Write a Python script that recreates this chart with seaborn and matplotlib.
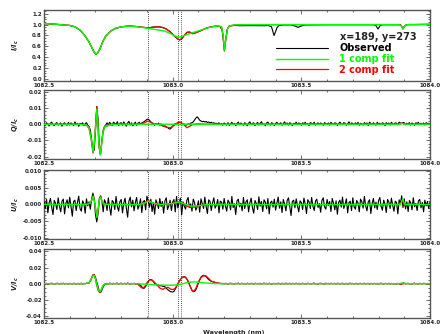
"""Stokes I/Q/U/V profiles around the He I 1083 nm triplet with 1- and 2-component fits."""

import numpy as np
import matplotlib
matplotlib.use("Agg")
import matplotlib.pyplot as plt
from matplotlib.ticker import MultipleLocator, FormatStrFormatter
import seaborn as sns

# ---------------------------------------------------------------- data
# observed Q/U/V sampled every 0.005 nm from 1082.5 to 1084.0 nm (301 pixels)
N_PIX = 301

# observed Stokes, in units of 1e-4 I_c
Q_OBS_E4 = [
    5, -6, 9, 2, -11, 6, 13, -3, -8, 4, 10, -5, 0, 8, -12, 3, 9, -2, -6, 12,
    -5, 8, 2, -9, 15, -3, 5, -13, 6, 0, 9, -8, 3, 10, -6, -14, -35, -95, -170, -160,
    -45, 110, 35, -150, -185, -105, -35, -14, -4, 9, -5, 12, 3, -8, 13, 6, -3, 16, -9, 5,
    10, -6, 15, 2, -12, 8, 18, -5, 9, -10, 3, 13, -7, 6, 12, 3, 8, 12, 17, 23,
    30, 32, 24, 15, 6, 1, -6, 5, -3, 8, -5, 3, -9, -12, -10, -16, -20, -27, -30, -22,
    -12, -3, 4, 2, 8, 12, 10, 5, -3, 2, -6, -4, 3, 0, 7, 10, 15, 26, 38, 46,
    37, 25, 20, 16, 18, 14, 17, 11, 14, 9, 12, 7, 9, 5, 6, 2, 9, -3, 5, -6,
    8, 2, -5, 10, -8, 3, 12, -2, 6, -9, 5, 13, -3, 8, 0, -6, 9, 3, -10, 6,
    15, -3, 5, 9, -8, 2, 12, -5, 6, 16, -2, 3, -9, 8, 13, 0, -5, 10, 3, -8,
    6, 12, -3, 2, 9, -6, 5, 15, -2, 8, -5, 10, 3, -9, 6, 2, 13, -3, 8, 5,
    -6, 9, 3, 12, -2, 5, -8, 10, 6, 0, 13, -5, 3, 9, -3, 8, 2, -6, 10, 5,
    0, 8, -5, 12, 3, -2, 9, 6, -8, 5, 13, 2, -3, 10, 6, -6, 3, 15, -2, 8,
    5, -3, 9, 0, 12, -6, 6, 3, -5, 10, 2, 8, -8, 13, 5, -2, 9, 3, -6, 12,
    2, 6, -3, 9, 5, -8, 10, 0, 8, -5, 12, 3, -2, 9, 6, -3, 13, 8, 5, 12,
    9, -3, 6, 2, 10, -5, 8, 3, -6, 9, 5, 12, -2, 6, 0, 8, -5, 10, 3, 6,
    2,
]
U_OBS_E4 = [
    8, -12, 15, -25, 5, 18, -8, -30, 12, 3, -15, 20, -5, -22, 10, 16, -28, 4, 14, -10,
    22, -6, -35, 9, 13, -18, 6, 25, -12, -20, 11, 3, -26, 17, -4, 8, -14, 16, 34, 18,
    -30, -52, -28, 18, 26, 10, -22, 14, 5, -18, 20, -9, -32, 12, 7, -15, 24, -6, -20, 9,
    15, -25, 4, 19, -11, -38, 10, 22, -7, 13, -19, 6, 21, -14, -3, 17, -24, 8, 12, -16,
    25, 10, -8, 16, -21, 5, -29, 14, 3, -12, 18, -6, 9, -26, 11, 20, -15, -4, 13, -18,
    7, 15, -22, 24, -10, 4, 19, -31, 8, -5, -14, 12, 21, -9, 2, -20, 16, 6, -17, -8,
    11, -23, 17, 3, -12, 22, -6, -27, 14, 9, -18, 5, 20, -11, -2, 15, -25, 10, 7, -14,
    18, -4, -20, 13, 6, -16, 24, -9, 2, -30, 11, 16, -7, 4, -19, 21, -12, 8, 14, -22,
    5, 19, -10, -26, 12, 3, -15, 23, -5, 9, -21, 14, 7, -13, 18, -28, 6, 10, -8, 16,
    -17, 4, 22, -11, 8, -24, 15, 1, -19, 12, 20, -6, -33, 9, 13, -10, 17, -4, -22, 11,
    6, -15, 19, 2, -27, 14, 8, -12, 21, -5, -18, 10, 16, -9, 3, -23, 12, 20, -7, -14,
    15, -3, 9, -21, 18, 4, -16, 11, -29, 7, 13, -8, 22, -12, 1, 17, -25, 6, 10, -18,
    20, -7, -14, 12, 5, -22, 16, 9, -11, 24, -4, -19, 8, 14, -27, 3, 18, -10, 7, -15,
    11, 21, -6, -17, 13, 2, -24, 15, 8, -12, 19, -3, -20, 10, 6, -28, 14, 4, 26, -9,
    17, -13, 8, -21, 12, 5, -16, 20, -7, 3, -18, 11, 15, -10, 6, -22, 13, -4, 9, -12,
    7,
]
V_OBS_E4 = [
    2, -3, 4, 0, -5, 3, 6, -2, 1, -4, 5, 2, -3, 4, -1, 6, -4, 2, 3, -5,
    4, 0, -3, 5, 2, -6, 3, 1, -2, 6, -4, 3, 0, 5, 3, 10, 30, 70, 105, 113,
    80, 20, -45, -95, -109, -80, -40, -15, -5, 3, -4, 6, 1, -3, 5, -2, 4, 7, -5, 2,
    6, -3, 1, 5, -4, 8, 2, -6, 3, 0, 4, -2, 0, -3, -10, -20, -40, -58, -55, -35,
    2, 28, 47, 51, 43, 26, 3, -8, -19, -21, -27, -26, -31, -34, -39, -57, -71, -84, -97, -101,
    -104, -96, -68, -36, -3, 24, 52, 69, 83, 85, 81, 58, 32, -11, -48, -82, -99, -97, -76, -38,
    6, 48, 81, 95, 103, 99, 87, 69, 49, 41, 30, 26, 19, 16, 10, 9, 4, 3, -1, 4,
    -2, 5, 1, -4, 3, 6, -1, 2, -5, 4, 0, 7, -3, 2, 5, -2, 3, -4, 6, 1,
    -3, 4, 2, -5, 6, 0, 3, -2, 5, -4, 1, 7, -1, 3, -3, 5, 2, -6, 4, 0,
    3, -2, 6, 1, -4, 4, 2, -3, 7, -1, 0, 5, -5, 3, 2, -2, 6, -1, 4, -3,
    1, 5, -2, 3, -4, 6, 0, 2, -3, 4, 7, -2, 1, -5, 3, 5, -1, 2, -4, 6,
    0, 3, -3, 5, 2, -1, 4, -4, 6, 1, -2, 3, 5, -3, 0, 4, -5, 2, 6, -1,
    3, -2, 1, 5, -4, 2, 4, -1, 0, 6, -3, 2, 3, -5, 4, 1, -2, 5, -1, 3,
    -4, 2, 6, 0, -3, 4, 1, -2, 5, -5, 3, 0, -3, 2, -6, 4, -2, -8, 6, -4,
    5, -3, 2, 4, -2, 1, -5, 3, 6, -1, 2, -4, 4, 0, -3, 5, 1, -2, 3, 0,
    2,
]

# observed intensity (smooth, given at read-off wavelengths)
I_OBS_WAVE = [
    1082.50, 1082.55, 1082.60, 1082.62, 1082.64, 1082.66, 1082.675, 1082.685,
    1082.695, 1082.702, 1082.709, 1082.718, 1082.728, 1082.74, 1082.76, 1082.78,
    1082.80, 1082.83, 1082.86, 1082.885, 1082.905, 1082.925, 1082.945, 1082.96,
    1082.975, 1082.99, 1083.005, 1083.018, 1083.027, 1083.036, 1083.046, 1083.056,
    1083.066, 1083.076, 1083.088, 1083.10, 1083.115, 1083.13, 1083.15, 1083.17,
    1083.185, 1083.193, 1083.197, 1083.201, 1083.206, 1083.212, 1083.22, 1083.24,
    1083.26, 1083.30, 1083.36, 1083.37, 1083.384, 1083.389, 1083.394, 1083.399,
    1083.405, 1083.412, 1083.43, 1083.46, 1083.475, 1083.487, 1083.50, 1083.515,
    1083.60, 1083.78, 1083.79, 1083.798, 1083.806, 1083.815, 1083.885, 1083.89,
    1083.895, 1083.90, 1083.91, 1084.00,
]
I_OBS = [
    1.020, 1.005, 0.985, 0.960, 0.900, 0.790, 0.680, 0.585,
    0.490, 0.455, 0.480, 0.560, 0.680, 0.790, 0.885, 0.935,
    0.960, 0.975, 0.965, 0.950, 0.940, 0.955, 0.960, 0.950,
    0.920, 0.870, 0.800, 0.740, 0.715, 0.742, 0.808, 0.858,
    0.862, 0.832, 0.848, 0.872, 0.902, 0.935, 0.960, 0.973,
    0.965, 0.880, 0.700, 0.515, 0.720, 0.915, 0.975, 0.985,
    0.980, 0.982, 0.980, 0.985, 0.960, 0.880, 0.800, 0.860,
    0.940, 0.980, 0.995, 0.995, 0.975, 0.950, 0.975, 0.995,
    1.000, 1.000, 0.980, 0.920, 0.980, 1.000, 1.000, 0.970,
    0.920, 0.970, 1.000, 1.005,
]

# 1-component fit
FIT1_I_WAVE = [
    1082.50, 1082.55, 1082.60, 1082.62, 1082.64, 1082.66, 1082.675, 1082.685,
    1082.695, 1082.702, 1082.709, 1082.718, 1082.728, 1082.74, 1082.76, 1082.78,
    1082.80, 1082.83, 1082.86, 1082.90, 1082.94, 1082.97, 1082.99, 1083.005,
    1083.017, 1083.027, 1083.04, 1083.06, 1083.08, 1083.10, 1083.12, 1083.14,
    1083.16, 1083.18, 1083.19, 1083.196, 1083.201, 1083.207, 1083.213, 1083.22,
    1083.24, 1083.30, 1083.88, 1083.888, 1083.895, 1083.902, 1083.91, 1084.00,
]
FIT1_I = [
    1.020, 1.005, 0.985, 0.960, 0.900, 0.790, 0.680, 0.585,
    0.490, 0.455, 0.480, 0.560, 0.680, 0.790, 0.885, 0.935,
    0.960, 0.972, 0.962, 0.935, 0.905, 0.880, 0.840, 0.800,
    0.775, 0.770, 0.790, 0.825, 0.855, 0.885, 0.915, 0.945,
    0.965, 0.975, 0.960, 0.800, 0.530, 0.750, 0.920, 0.975,
    0.995, 1.000, 1.000, 0.980, 0.925, 0.980, 1.000, 1.005,
]
FIT1_Q_WAVE = [
    1082.50, 1082.64, 1082.665, 1082.675, 1082.684, 1082.691, 1082.696, 1082.701,
    1082.7055, 1082.709, 1082.7135, 1082.7195, 1082.724, 1082.73, 1082.738, 1082.76,
    1082.80, 1083.88, 1083.894, 1083.90, 1084.00,
]
FIT1_Q = [
    0.0, 0.0, -0.0005, -0.0022, -0.0095, -0.0172, -0.0110, -0.0005,
    0.0095, 0.0015, -0.0125, -0.0190, -0.0120, -0.0040, -0.0012, -0.0003,
    0.0, 0.0, 0.0005, 0.0, 0.0,
]
FIT1_U_WAVE = [
    1082.50, 1082.66, 1082.675, 1082.685, 1082.6915, 1082.697, 1082.701, 1082.7055,
    1082.7105, 1082.715, 1082.7195, 1082.726, 1082.735, 1082.75, 1082.87, 1082.89,
    1082.905, 1082.925, 1082.95, 1083.00, 1083.025, 1083.045, 1083.07, 1083.10,
    1083.13, 1083.885, 1083.894, 1083.902, 1084.00,
]
FIT1_U = [
    0.0, 0.0, 0.0002, 0.0012, 0.0025, 0.0006, -0.0016, -0.0038,
    -0.0012, 0.0014, 0.0022, 0.0007, 0.0001, 0.0, 0.0, 0.0004,
    0.0010, 0.0004, 0.0, 0.0003, 0.0008, 0.0002, -0.0005, -0.0004,
    0.0, 0.0, 0.0017, 0.0, 0.0,
]
FIT1_V_WAVE = [
    1082.50, 1082.66, 1082.675, 1082.684, 1082.691, 1082.695, 1082.700, 1082.706,
    1082.712, 1082.718, 1082.723, 1082.729, 1082.737, 1082.75, 1082.85, 1082.90,
    1082.94, 1082.98, 1083.01, 1083.035, 1083.055, 1083.075, 1083.10, 1083.13,
    1083.16, 1083.19, 1083.88, 1083.895, 1083.91, 1084.00,
]
FIT1_V = [
    0.0, 0.0, 0.0010, 0.0060, 0.0100, 0.0102, 0.0060, -0.0020,
    -0.0085, -0.0098, -0.0075, -0.0030, -0.0005, 0.0, 0.0, -0.0008,
    -0.0016, -0.0020, -0.0018, -0.0005, 0.0012, 0.0022, 0.0018, 0.0008,
    0.0002, 0.0, 0.0, 0.0008, 0.0, 0.0,
]

# 2-component fit
FIT2_I_WAVE = [
    1082.50, 1082.55, 1082.60, 1082.62, 1082.64, 1082.66, 1082.675, 1082.685,
    1082.695, 1082.702, 1082.709, 1082.718, 1082.728, 1082.74, 1082.76, 1082.78,
    1082.80, 1082.83, 1082.86, 1082.885, 1082.905, 1082.925, 1082.945, 1082.96,
    1082.975, 1082.99, 1083.005, 1083.018, 1083.027, 1083.036, 1083.046, 1083.056,
    1083.066, 1083.076, 1083.088, 1083.10, 1083.115, 1083.13, 1083.15, 1083.17,
    1083.19, 1083.196, 1083.201, 1083.207, 1083.213, 1083.22, 1083.24, 1083.30,
    1083.88, 1083.888, 1083.895, 1083.902, 1083.91, 1084.00,
]
FIT2_I = [
    1.020, 1.005, 0.985, 0.960, 0.900, 0.790, 0.680, 0.585,
    0.490, 0.455, 0.480, 0.560, 0.680, 0.790, 0.885, 0.935,
    0.960, 0.975, 0.965, 0.952, 0.942, 0.955, 0.960, 0.948,
    0.920, 0.870, 0.800, 0.745, 0.720, 0.745, 0.810, 0.860,
    0.865, 0.835, 0.850, 0.870, 0.900, 0.935, 0.960, 0.975,
    0.960, 0.800, 0.530, 0.750, 0.920, 0.975, 0.995, 1.000,
    1.000, 0.980, 0.925, 0.980, 1.000, 1.005,
]
FIT2_Q_WAVE = [
    1082.50, 1082.64, 1082.665, 1082.675, 1082.683, 1082.6905, 1082.695, 1082.700,
    1082.7053, 1082.709, 1082.713, 1082.7185, 1082.723, 1082.729, 1082.737, 1082.76,
    1082.80, 1082.87, 1082.89, 1082.903, 1082.915, 1082.93, 1082.95, 1082.975,
    1082.99, 1083.005, 1083.02, 1083.03, 1083.042, 1083.055, 1083.067, 1083.08,
    1083.10, 1083.13, 1083.88, 1083.893, 1083.90, 1084.00,
]
FIT2_Q = [
    0.0, 0.0, -0.0006, -0.0025, -0.0090, -0.0178, -0.0120, -0.0010,
    0.0108, 0.0020, -0.0120, -0.0188, -0.0130, -0.0050, -0.0015, -0.0003,
    0.0, 0.0, 0.0008, 0.0020, 0.0012, 0.0002, -0.0003, -0.0018,
    -0.0022, -0.0008, 0.0012, 0.0014, 0.0, -0.0022, -0.0012, 0.0,
    0.0003, 0.0, 0.0, 0.0008, 0.0, 0.0,
]
FIT2_U_WAVE = [
    1082.50, 1082.66, 1082.675, 1082.685, 1082.692, 1082.697, 1082.701, 1082.706,
    1082.711, 1082.7155, 1082.720, 1082.726, 1082.735, 1082.75, 1082.87, 1082.89,
    1082.905, 1082.92, 1082.94, 1082.96, 1082.98, 1083.00, 1083.02, 1083.035,
    1083.05, 1083.07, 1083.09, 1083.11, 1083.14, 1083.88, 1083.893, 1083.90,
    1083.91, 1084.00,
]
FIT2_U = [
    0.0, 0.0, 0.0002, 0.0012, 0.0024, 0.0008, -0.0015, -0.0037,
    -0.0012, 0.0016, 0.0024, 0.0008, 0.0001, 0.0, 0.0, 0.0005,
    0.0012, 0.0006, -0.0002, 0.0, 0.0002, 0.0004, 0.0009, 0.0006,
    -0.0003, -0.0009, -0.0007, -0.0002, 0.0, 0.0, 0.0012, -0.0004,
    0.0, 0.0,
]
FIT2_V_WAVE = [
    1082.50, 1082.66, 1082.675, 1082.683, 1082.690, 1082.694, 1082.699, 1082.705,
    1082.711, 1082.717, 1082.722, 1082.728, 1082.736, 1082.75, 1082.85, 1082.865,
    1082.875, 1082.884, 1082.893, 1082.902, 1082.912, 1082.92, 1082.93, 1082.94,
    1082.95, 1082.962, 1082.972, 1082.982, 1082.992, 1083.002, 1083.012, 1083.022,
    1083.035, 1083.047, 1083.057, 1083.066, 1083.075, 1083.082, 1083.09, 1083.10,
    1083.11, 1083.12, 1083.13, 1083.14, 1083.15, 1083.165, 1083.185, 1083.20,
    1083.88, 1083.89, 1083.896, 1083.905, 1084.00,
]
FIT2_V = [
    0.0, 0.0, 0.0010, 0.0060, 0.0108, 0.0112, 0.0070, -0.0020,
    -0.0090, -0.0108, -0.0080, -0.0030, -0.0005, 0.0, 0.0, -0.0010,
    -0.0040, -0.0058, -0.0030, 0.0020, 0.0048, 0.0045, 0.0015, -0.0020,
    -0.0055, -0.0072, -0.0050, -0.0045, -0.0068, -0.0074, -0.0050, 0.0010,
    0.0075, 0.0085, 0.0050, -0.0020, -0.0085, -0.0095, -0.0060, 0.0020,
    0.0075, 0.0098, 0.0095, 0.0065, 0.0030, 0.0015, 0.0003, 0.0,
    0.0, -0.0008, 0.0008, 0.0, 0.0,
]

HE_LINES = [1082.906, 1083.022, 1083.034]
XTICKS = [1082.5, 1083.0, 1083.5, 1084.0]
PIXEL_LABEL = "x=189, y=273"

GREEN = "#00ff00"
RED = "#ff0000"
FRAME = "#555555"


def style_axis(ax, ylim, major, minor, fmt, ylabel):
    ax.set_xlim(1082.5, 1084.0)
    ax.set_ylim(*ylim)
    ax.set_xticks(XTICKS)
    ax.xaxis.set_minor_locator(MultipleLocator(0.1))
    ax.xaxis.set_major_formatter(FormatStrFormatter("%.1f"))
    ax.yaxis.set_major_locator(MultipleLocator(major))
    ax.yaxis.set_minor_locator(MultipleLocator(minor))
    ax.yaxis.set_major_formatter(FormatStrFormatter(fmt))
    ax.tick_params(which="both", direction="in", top=True, right=True,
                   color=FRAME, width=0.6, labelsize=4.0, pad=1.5)
    ax.tick_params(which="major", length=3.2)
    ax.tick_params(which="minor", length=1.6)
    for lab in ax.get_xticklabels() + ax.get_yticklabels():
        lab.set_fontweight("bold")
    for sp in ax.spines.values():
        sp.set_color(FRAME)
        sp.set_linewidth(1.0)
    ax.set_xlabel("")
    ax.set_ylabel(ylabel, fontsize=4.8)
    ax.yaxis.set_label_coords(-0.06, 0.5)
    for w in HE_LINES:
        ax.axvline(w, color="k", linestyle=(0, (1, 1.5)), linewidth=0.6, zorder=1)


sns.set_theme(style="ticks")
plt.rcParams["font.family"] = ["DejaVu Sans"]
plt.rcParams["mathtext.default"] = "bfit"

wave = np.linspace(1082.5, 1084.0, N_PIX)
q_obs = np.array(Q_OBS_E4) * 1e-4
u_obs = np.array(U_OBS_E4) * 1e-4
v_obs = np.array(V_OBS_E4) * 1e-4

fig = plt.figure(figsize=(4.4, 3.34), dpi=100)
left, width = 0.1, 0.8773
# panel edges in pixels from the top: (top, bottom)
edges = [(10, 80.5), (90, 158.5), (170, 239), (249, 317.5)]
axes = []
for top, bot in edges:
    axes.append(fig.add_axes([left, 1 - bot / 334, width, (bot - top) / 334]))

panels = [
    (np.array(I_OBS_WAVE), np.array(I_OBS), FIT1_I_WAVE, FIT1_I, FIT2_I_WAVE, FIT2_I),
    (wave, q_obs, FIT1_Q_WAVE, FIT1_Q, FIT2_Q_WAVE, FIT2_Q),
    (wave, u_obs, FIT1_U_WAVE, FIT1_U, FIT2_U_WAVE, FIT2_U),
    (wave, v_obs, FIT1_V_WAVE, FIT1_V, FIT2_V_WAVE, FIT2_V),
]
for ax, (ow, ov, w1, f1, w2, f2) in zip(axes, panels):
    sns.lineplot(x=ow, y=ov, ax=ax, color="black", linewidth=0.8,
                 estimator=None, sort=False, label="Observed", zorder=3)
    sns.lineplot(x=w2, y=f2, ax=ax, color=RED, linewidth=0.9,
                 estimator=None, sort=False, label="2 comp fit", zorder=4)
    sns.lineplot(x=w1, y=f1, ax=ax, color=GREEN, linewidth=1.0,
                 estimator=None, sort=False, label="1 comp fit", zorder=5)
    ax.get_legend().remove()

style_axis(axes[0], (-0.03, 1.27), 0.2, 0.05, "%.1f", r"$I/I_c$")
style_axis(axes[1], (-0.0212, 0.0212), 0.01, 0.002, "%.2f", r"$Q/I_c$")
style_axis(axes[2], (-0.0103, 0.0103), 0.005, 0.001, "%.3f", r"$U/I_c$")
style_axis(axes[3], (-0.042, 0.043), 0.02, 0.005, "%.2f", r"$V/I_c$")

# legend in the top panel, IDL style
handles, labels = axes[0].get_legend_handles_labels()
order = [labels.index("Observed"), labels.index("1 comp fit"), labels.index("2 comp fit")]
leg = axes[0].legend([handles[k] for k in order], [labels[k] for k in order],
                     loc="upper left", bbox_to_anchor=(0.601, 0.53),
                     frameon=False, fontsize=7, handlelength=5.3,
                     handletextpad=1.2, labelspacing=0.08, borderpad=0,
                     borderaxespad=0, labelcolor=["black", GREEN, RED])
for t in leg.get_texts():
    t.set_fontweight("bold")
axes[0].text(0.767, 0.62, PIXEL_LABEL, transform=axes[0].transAxes,
             fontsize=7, fontweight="bold", va="center", ha="left")

fig.text(0.532, 1 - 332.5 / 334, "Wavelength (nm)", fontsize=4.6,
         fontweight="bold", ha="center", va="center")

fig.savefig("out.png", dpi=100)
